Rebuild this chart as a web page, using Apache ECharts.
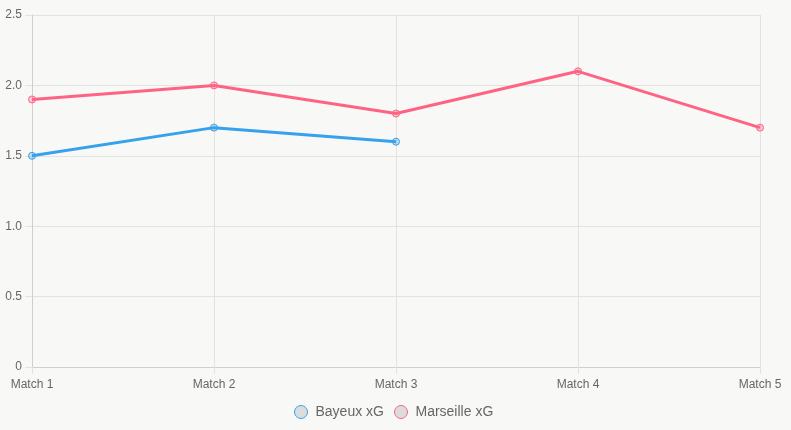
<!DOCTYPE html>
<html><head><meta charset="utf-8">
<script src="https://cdn.jsdelivr.net/npm/echarts@6/dist/echarts.min.js"></script>
<style>html,body{margin:0;padding:0;background:#f8f8f6;}#c{width:791px;height:430px;}</style>
</head><body><div id="c"></div>
<script>
const categories = ['Match 1','Match 2','Match 3','Match 4','Match 5'];
const bayeuxXG = [1.5, 1.7, 1.6, null, null];
const marseilleXG = [1.9, 2.0, 1.8, 2.1, 1.7];
const seriesNames = ['Bayeux xG','Marseille xG'];

const chart = echarts.init(document.getElementById('c'), null, {renderer:'canvas'});
const gridColor = '#e2e2e0';
const axisColor = '#cfcfcd';
const font = 'Liberation Sans, Arial, Helvetica, sans-serif';
function mkSeries(name, data, color, fill){
  return {
    name, type:'line', data, smooth:false, connectNulls:false,
    symbol:'circle', symbolSize:7,
    lineStyle:{color, width:3},
    itemStyle:{color:fill, borderColor:color, borderWidth:1},
    emphasis:{disabled:true}
  };
}
chart.setOption({
  backgroundColor:'#f8f8f6',
  animation:false,
  grid:{left:32, right:31, top:15, bottom:63, containLabel:false},
  legend:{
    bottom:6, left:289, itemGap:10, itemWidth:13, itemHeight:13,
    icon:'circle',
    textStyle:{color:'#666', fontSize:14, fontFamily:font, padding:[0,0,0,3]},
    data:[
      {name:seriesNames[0], itemStyle:{color:'#dcdcdc', borderColor:'#36a2eb', borderWidth:1}},
      {name:seriesNames[1], itemStyle:{color:'#dcdcdc', borderColor:'#ff6384', borderWidth:1}}
    ]
  },
  xAxis:{
    type:'category', data:categories, boundaryGap:false,
    axisLine:{show:true, lineStyle:{color:axisColor}},
    axisTick:{show:true, length:7, lineStyle:{color:gridColor}},
    splitLine:{show:true, lineStyle:{color:gridColor}},
    axisLabel:{color:'#666', fontSize:12, fontFamily:font, margin:12, interval:0}
  },
  yAxis:{
    type:'value', min:0, max:2.5, interval:0.5,
    axisLine:{show:true, lineStyle:{color:axisColor}},
    axisTick:{show:true, length:7, lineStyle:{color:gridColor}},
    splitLine:{show:true, lineStyle:{color:gridColor}},
    axisLabel:{color:'#666', fontSize:12, fontFamily:font, margin:10,
      formatter:v=> v===0 ? '0' : v.toFixed(1)}
  },
  series:[
    mkSeries(seriesNames[0], bayeuxXG, '#36a2eb', 'rgba(54,162,235,0.3)'),
    mkSeries(seriesNames[1], marseilleXG, '#ff6384', 'rgba(255,99,132,0.3)')
  ]
});
</script></body></html>
